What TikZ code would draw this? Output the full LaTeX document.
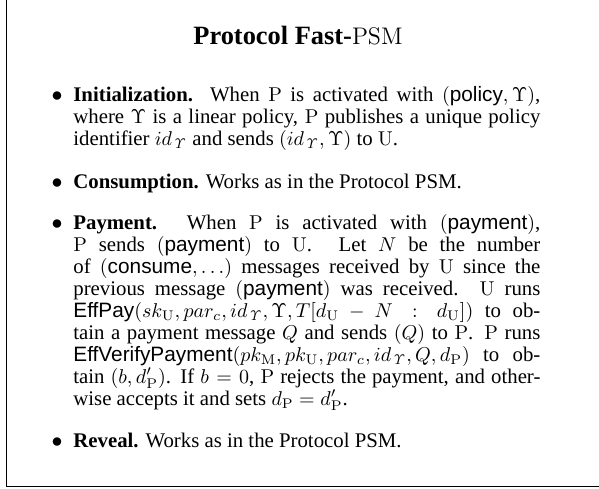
\documentclass[tikz,border=0pt]{standalone}
\usepackage[no-math]{fontspec}
\setmainfont{Liberation Serif}
\setsansfont{Liberation Sans}
\usepackage{amsmath}

\begin{document}
\begin{tikzpicture}[
    x=0.5pt, y=-0.5pt,
    every node/.style={inner sep=0pt},
    heading/.style={
        anchor=base,
        font=\fontsize{13.2}{14}\selectfont\bfseries
    },
    bul/.style={
        anchor=base,
        font=\fontsize{10.5}{11}\selectfont
    },
    entry/.style={
        anchor=base west,
        text width=233.5pt,
        align=justify,
        font={\fontsize{10.4}{11}\selectfont\tolerance=10000 \hbadness=10000 \hfuzz=3pt }
    },
    boxline/.style={
        line width=0.75pt
    }
]

\useasboundingbox (0,0) rectangle (599,488);

\coordinate (ftop) at (6.5,0);
\coordinate (fcorner) at (6.5,486.5);
\coordinate (fend) at (599,486.5);
\draw[boxline] (ftop) -- (fcorner) -- (fend);

\node[heading] (title) at (298,44) {Protocol Fast-{\mdseries$\mathrm{PSM}$}};

\node[bul] (b1) at (57,101) {$\bullet$};
\node[entry] (init) at (73,101) {\textbf{Initialization.} When $\mathrm{P}$ is activated with $(\textsf{policy}, \Upsilon)$,\linebreak
where $\Upsilon$ is a linear policy, $\mathrm{P}$ publishes a unique policy\linebreak
identifier $id_{\mathit{\Upsilon}}$ and sends $(id_{\mathit{\Upsilon}}, \Upsilon)$ to $\mathrm{U}$.};

\node[bul] (b2) at (57,188) {$\bullet$};
\node[entry] (cons) at (73,188) {\textbf{Consumption.} Works as in the Protocol PSM.};

\node[bul] (b3) at (57,229) {$\bullet$};
\node[entry] (pay) at (73,229) {\textbf{Payment.} When $\mathrm{P}$ is activated with $(\textsf{payment})$,\linebreak
$\mathrm{P}$ sends $(\textsf{payment})$ to $\mathrm{U}$. Let $N$ be the number\linebreak
of $(\textsf{consume}, \ldots)$ messages received by $\mathrm{U}$ since the\linebreak
previous message $(\textsf{payment})$ was received. $\mathrm{U}$ runs\linebreak
$\textsf{EffPay}(sk_{\mathrm{U}}, par_c, id_{\mathit{\Upsilon}}, \Upsilon, T[d_{\mathrm{U}} - N : d_{\mathrm{U}}])$ to ob-\linebreak
tain a payment message $Q$ and sends $(Q)$ to $\mathrm{P}$. $\mathrm{P}$ runs\linebreak
$\textsf{EffVerifyPayment}(pk_{\mathrm{M}}, pk_{\mathrm{U}}, par_c, id_{\mathit{\Upsilon}}, Q, d_{\mathrm{P}})$ to ob-\linebreak
tain $(b, d'_{\mathrm{P}})$. If $b = 0$, $\mathrm{P}$ rejects the payment, and other-\linebreak
wise accepts it and sets $d_{\mathrm{P}} = d'_{\mathrm{P}}$.};

\node[bul] (b4) at (57,447) {$\bullet$};
\node[entry] (rev) at (73,447) {\textbf{Reveal.} Works as in the Protocol PSM.};

\end{tikzpicture}
\end{document}
